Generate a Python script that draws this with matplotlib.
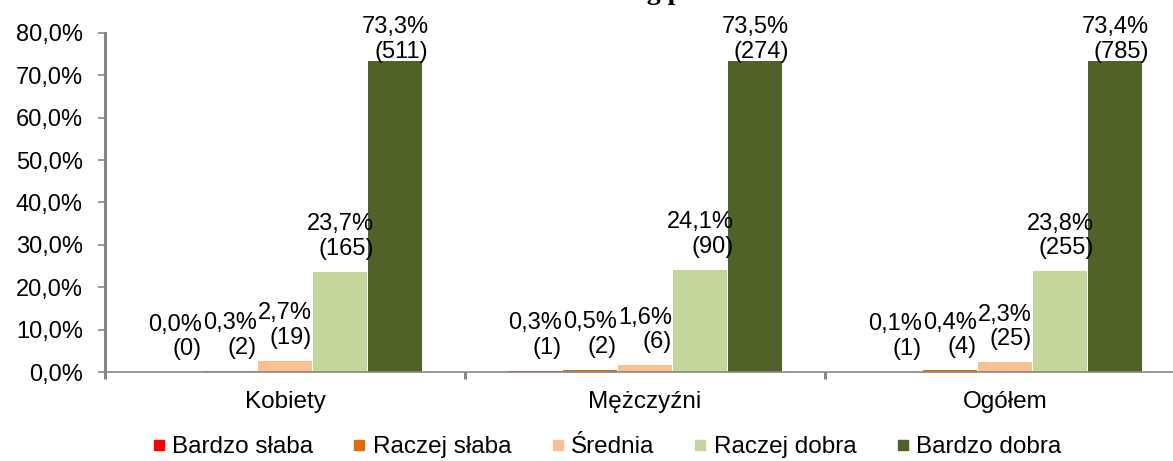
import matplotlib
matplotlib.use("Agg")
import matplotlib.pyplot as plt
from matplotlib.lines import Line2D
from matplotlib.ticker import FuncFormatter, MultipleLocator
import numpy as np

categories = ["Kobiety", "Mężczyźni", "Ogółem"]
series_names = ["Bardzo słaba", "Raczej słaba", "Średnia", "Raczej dobra", "Bardzo dobra"]
colors = ["#FF0000", "#E36C09", "#FAC090", "#C3D69B", "#4F6228"]

bardzo_slaba = [0.0, 0.3, 0.1]
raczej_slaba = [0.3, 0.5, 0.4]
srednia = [2.7, 1.6, 2.3]
raczej_dobra = [23.7, 24.1, 23.8]
bardzo_dobra = [73.3, 73.5, 73.4]

n_bardzo_slaba = [0, 1, 1]
n_raczej_slaba = [2, 2, 4]
n_srednia = [19, 6, 25]
n_raczej_dobra = [165, 90, 255]
n_bardzo_dobra = [511, 274, 785]

title = "Ocena zdrowia wg płci"

values = [bardzo_slaba, raczej_slaba, srednia, raczej_dobra, bardzo_dobra]
counts = [n_bardzo_slaba, n_raczej_slaba, n_srednia, n_raczej_dobra, n_bardzo_dobra]

plt.rcParams['font.family'] = ['Liberation Sans', 'DejaVu Sans']

W, H = 1173, 461
fig = plt.figure(figsize=(W / 100, H / 100), dpi=100)
left_px, bottom_px, top_px = 105, 372, 33
ax = fig.add_axes([left_px / W, (H - bottom_px) / H, (1185 - left_px) / W, (bottom_px - top_px) / H])

x = np.arange(len(categories))
pitch = 0.1528
bw = 0.150
for i, (vals, cnts, col) in enumerate(zip(values, counts, colors)):
    xs = x + (i - 2) * pitch
    ax.bar(xs, vals, width=bw, color=col, zorder=2)
    for xi, v, c in zip(xs, vals, cnts):
        ytxt = min(v + 2.8, 73.0)
        ax.text(xi, ytxt, f"{v:.1f}%".replace(".", ",") + f"\n({c})",
                ha='center', va='bottom', multialignment='right',
                fontsize=17, color='black', linespacing=1.15, zorder=3)

ax.set_xlim(-0.5, len(categories) - 0.5)
ax.set_ylim(0, 80)
ax.yaxis.set_major_locator(MultipleLocator(10))
ax.yaxis.set_major_formatter(FuncFormatter(lambda v, p: f"{v:.1f}%".replace(".", ",")))
ax.set_xticks(x)
ax.set_xticklabels(categories, fontsize=17.5)
ax.set_xticks(np.arange(len(categories) + 1) - 0.5, minor=True)
ax.tick_params(axis='x', which='major', length=0, pad=14)
ax.tick_params(axis='x', which='minor', length=5, width=2.2, color='#868686', direction='out')
ax.tick_params(axis='y', which='major', length=5, width=1.2, color='#868686', pad=11, labelsize=17)

for s in ['top', 'right']:
    ax.spines[s].set_visible(False)
ax.spines['left'].set_color('#868686')
ax.spines['left'].set_linewidth(2.2)
ax.spines['bottom'].set_color('#868686')
ax.spines['bottom'].set_linewidth(1.2)

handles = [Line2D([], [], marker='s', linestyle='none', markersize=6.5, markerfacecolor=c,
                  markeredgecolor=c) for c in colors]
fig.legend(handles, series_names, loc='center', bbox_to_anchor=(607 / W, (H - 447) / H),
           ncol=5, frameon=False, fontsize=17.5, handlelength=0.5, handletextpad=0.3,
           columnspacing=1.65, borderaxespad=0)

fig.text(442 / W, 1.0 + 1 / H, title, ha='left', va='baseline', fontsize=20,
         fontweight='bold', family='Liberation Serif')

fig.savefig("out.png", dpi=100)
